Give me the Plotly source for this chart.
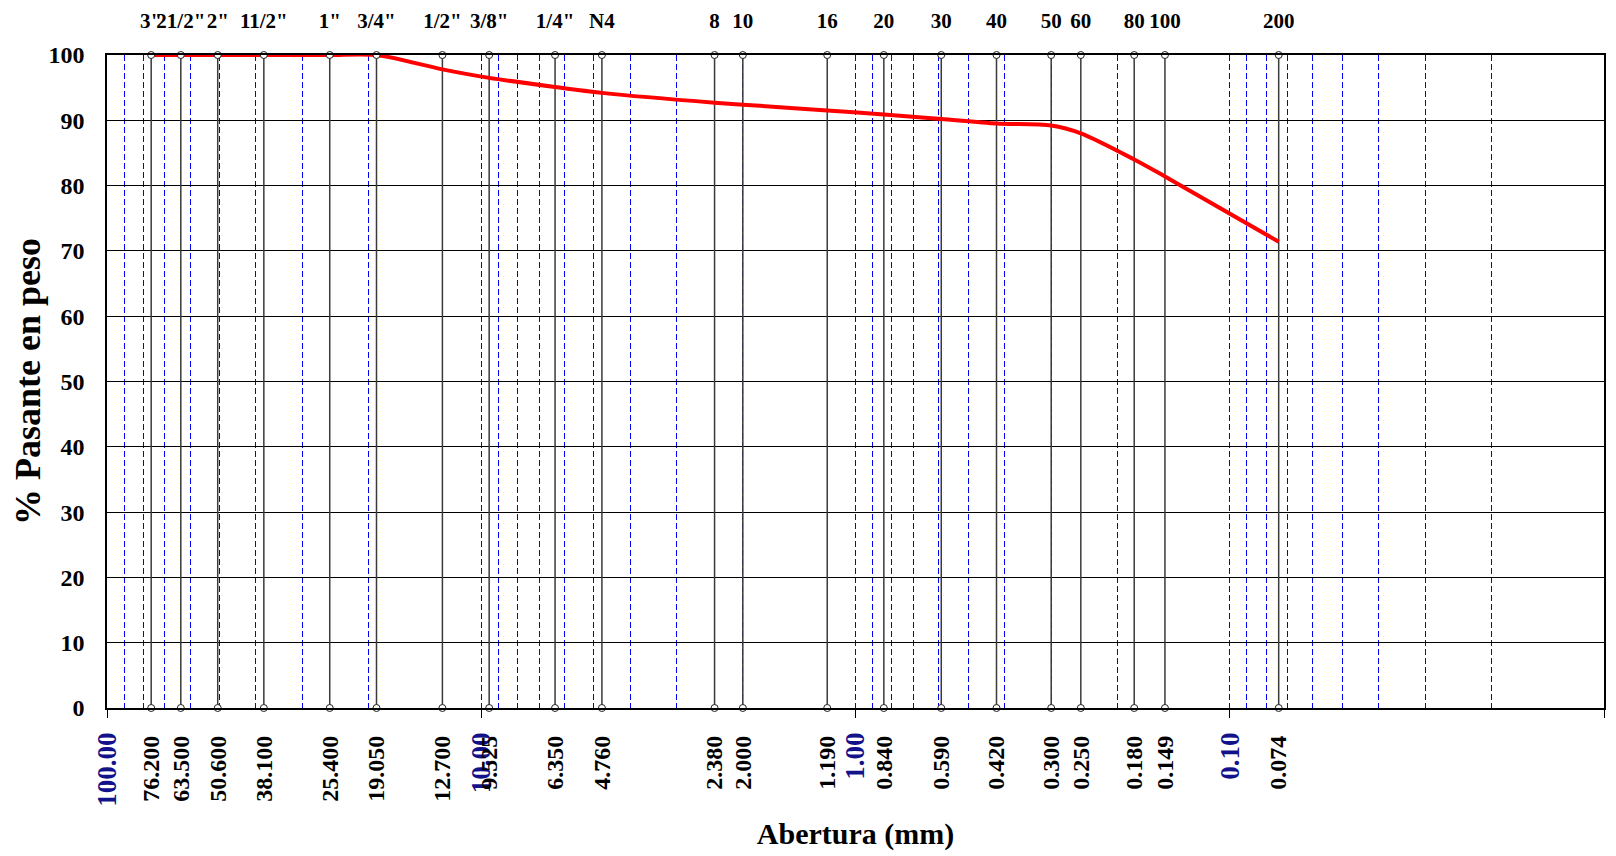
import plotly.graph_objects as go

# ---- data ----
sieve_names = ['3"', '21/2"', '2"', '11/2"', '1"', '3/4"', '1/2"', '3/8"', '1/4"', 'N4',
               '8', '10', '16', '20', '30', '40', '50', '60', '80', '100', '200']
sieve_mm = [76.2, 63.5, 50.6, 38.1, 25.4, 19.05, 12.7, 9.525, 6.35, 4.76,
            2.38, 2.0, 1.19, 0.84, 0.59, 0.42, 0.30, 0.25, 0.18, 0.149, 0.074]
sieve_labels = ['76.200', '63.500', '50.600', '38.100', '25.400', '19.050', '12.700', '9.525',
                '6.350', '4.760', '2.380', '2.000', '1.190', '0.840', '0.590', '0.420',
                '0.300', '0.250', '0.180', '0.149', '0.074']
passing = [100, 100, 100, 100, 100, 100, 97.8, 96.5, 95.1, 94.2,
           92.7, 92.4, 91.5, 90.9, 90.2, 89.5, 89.2, 88.0, 84.0, 81.4, 71.4]

decade_vals = [100, 10, 1, 0.1, 0.01]
decade_labels = ['100.00', '10.00', '1.00', '0.10', '0.01']
y_ticks = [0, 10, 20, 30, 40, 50, 60, 70, 80, 90, 100]

# minor (2..9) log grid positions
minor_vals = [m * d for d in [10, 1, 0.1, 0.01] for m in range(2, 10)]

SERIF = "Liberation Serif"
NAVY = "#12128a"

# vertical sieve lines with end markers (from the sieve list)
vx, vy = [], []
for s in sieve_mm:
    vx += [s, s, None]
    vy += [0, 100, None]

fig = go.Figure()
# base axis: sieve verticals
fig.add_trace(go.Scatter(
    x=vx, y=vy, xaxis="x", yaxis="y", mode="lines",
    line=dict(color="#3a3a3a", width=1.5),
    hoverinfo="skip", showlegend=False))
# overlay x2: invisible carrier so the axis is drawn
fig.add_trace(go.Scatter(
    x=sieve_mm, y=passing, xaxis="x2", yaxis="y", mode="markers",
    marker=dict(opacity=0), hoverinfo="skip", showlegend=False))
# overlay x3: red curve and the end markers of the sieve lines
fig.add_trace(go.Scatter(
    x=sieve_mm, y=passing, xaxis="x3", yaxis="y", mode="lines",
    line=dict(color="#ff0000", width=4, shape="spline", smoothing=0.8),
    showlegend=False, name="Curva granulométrica"))
fig.add_trace(go.Scatter(
    x=vx, y=vy, xaxis="x3", yaxis="y", mode="markers",
    marker=dict(symbol="circle", size=7, color="white", line=dict(color="#222", width=1)),
    cliponaxis=False, hoverinfo="skip", showlegend=False))

axis_common = dict(type="log", range=[2, -2], automargin=False)

fig.update_layout(
    width=1608, height=848,
    margin=dict(l=99, r=12, t=47, b=148),
    plot_bgcolor="white", paper_bgcolor="white",
    font=dict(family=SERIF, color="black"),
    xaxis=dict(
        **axis_common,
        tickmode="array", tickvals=decade_vals, ticktext=decade_labels,
        tickangle=-90, tickfont=dict(family=SERIF, size=27, color=NAVY, weight="bold"),
        ticks="outside", ticklen=8, tickwidth=1, tickcolor="black",
        ticklabelstandoff=4,
        showgrid=True, gridcolor="#0000ff", gridwidth=1, griddash="6px,3px",
        minor=dict(tickvals=minor_vals, showgrid=True, gridcolor="#0000ff",
                   gridwidth=1, griddash="6px,3px", ticks=""),
        showline=True, linecolor="black", linewidth=1.5, mirror=True,
        zeroline=False,
        title=dict(text="Abertura (mm)", font=dict(family=SERIF, size=30, weight="bold"),
                   standoff=17),
    ),
    xaxis2=dict(
        **axis_common, overlaying="x", anchor="y", side="bottom",
        tickmode="array", tickvals=sieve_mm, ticktext=sieve_labels,
        tickangle=-90, tickfont=dict(family=SERIF, size=24, color="black", weight="bold"),
        ticks="", ticklabelstandoff=22, showgrid=False, showline=False, zeroline=False,
    ),
    xaxis3=dict(
        **axis_common, overlaying="x", anchor="y", side="top",
        tickmode="array", tickvals=sieve_mm, ticktext=sieve_names,
        tickangle=0, tickfont=dict(family=SERIF, size=21, color="black", weight="bold"),
        ticks="", ticklabelstandoff=22, showgrid=False, showline=False, zeroline=False,
    ),
    yaxis=dict(
        range=[0, 100], tickmode="array", tickvals=y_ticks, automargin=False,
        tickfont=dict(family=SERIF, size=24, color="black", weight="bold"),
        ticks="", ticklabelstandoff=16,
        showgrid=True, gridcolor="black", gridwidth=1,
        showline=True, linecolor="black", linewidth=1.5, mirror=True, zeroline=False,
        title=dict(text="% Pasante en peso", font=dict(family=SERIF, size=36, weight="bold"),
                   standoff=8),
    ),
)

fig.write_html("out.html")
